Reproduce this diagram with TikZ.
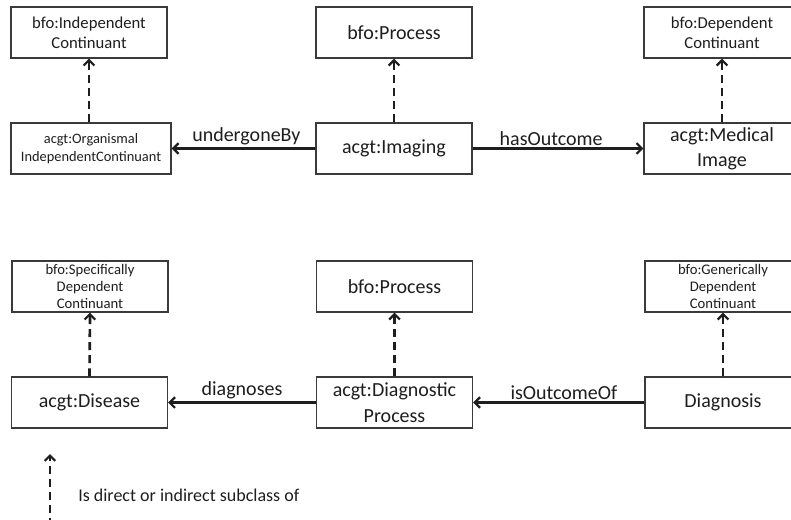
\documentclass[tikz,border=0pt]{standalone}
\usepackage{fontspec}
\setmainfont{Carlito}
\usetikzlibrary{arrows.meta}
\definecolor{txt}{HTML}{1E1E1E}
\definecolor{brd}{HTML}{3A3A3A}
\tikzset{
  box/.style={draw=brd, line width=1.1pt, fill=white, minimum width=117pt, minimum height=38.25pt, inner sep=0pt, align=center, text=txt},
  big/.style={font=\fontsize{15}{19}\selectfont},
  mid/.style={font=\fontsize{12.5}{15}\selectfont},
  sml/.style={font=\fontsize{10.8}{13.5}\selectfont},
  tiny/.style={font=\fontsize{11}{12.75}\selectfont},
  rel/.style={draw=txt, line width=1.6pt, -{Straight Barb[length=4pt,width=8pt,line width=1.6pt]}},
  sub/.style={draw=txt, line width=2pt, dash pattern=on 6pt off 3.8pt, -{Straight Barb[length=4pt,width=8pt,line width=1.6pt]}},
  lbl/.style={text=txt, font=\fontsize{15}{18}\selectfont, inner sep=1.5pt, above}
}
\begin{document}
\begin{tikzpicture}[x=0.75pt,y=-0.75pt]
\useasboundingbox (0,0) rectangle (791,520);
% row 1
\node[box,mid] (a1) at (89,32.5) {bfo:Independent\\Continuant};
\node[box,big] (b1) at (394,32.5) {bfo:Process};
\node[box,mid] (c1) at (722,32.5) {bfo:Dependent\\Continuant};
% row 2
\node[box,sml,minimum width=120pt] (a2) at (91,148.5) {acgt:Organismal\\IndependentContinuant};
\node[box,big] (b2) at (394,148.5) {acgt:Imaging};
\node[box,big] (c2) at (722,148.5) {acgt:Medical\\Image};
% row 3
\node[box,tiny] (a3) at (90,286.5) {bfo:Specifically\\Dependent\\Continuant};
\node[box,big] (b3) at (394.5,286.5) {bfo:Process};
\node[box,tiny] (c3) at (723,286.5) {bfo:Generically\\Dependent\\Continuant};
% row 4
\node[box,big] (a4) at (89.5,402.5) {acgt:Disease};
\node[box,big] (b4) at (394.5,402.5) {acgt:Diagnostic\\Process};
\node[box,big] (c4) at (723,402.5) {Diagnosis};
% subclass arrows
\draw[sub] (a1.south |- a2.north) -- (a1.south);
\draw[sub] (b2.north) -- (b1.south);
\draw[sub] (c2.north) -- (c1.south);
\draw[sub] (a4.north) -- (a3.south);
\draw[sub] (b4.north) -- (b3.south);
\draw[sub] (c4.north) -- (c3.south);
% relations
\draw[rel] (b2.west) -- node[lbl,pos=0.48] {undergoneBy} (a2.east);
\draw[rel] (b2.east) -- node[lbl,pos=0.46] {hasOutcome} (c2.west);
\draw[rel] (b4.west) -- node[lbl,pos=0.5] {diagnoses} (a4.east);
\draw[rel] (c4.west) -- node[lbl,pos=0.47] {isOutcomeOf} (b4.east);
% legend
\coordinate (ltail) at (50,526);
\coordinate (lhead) at (50,454);
\draw[sub] (ltail) -- (lhead);
\node[anchor=west, text=txt, font=\fontsize{13.5}{16}\selectfont, inner sep=0pt] (legend) at (78,495) {Is direct or indirect subclass of};
\end{tikzpicture}
\end{document}
